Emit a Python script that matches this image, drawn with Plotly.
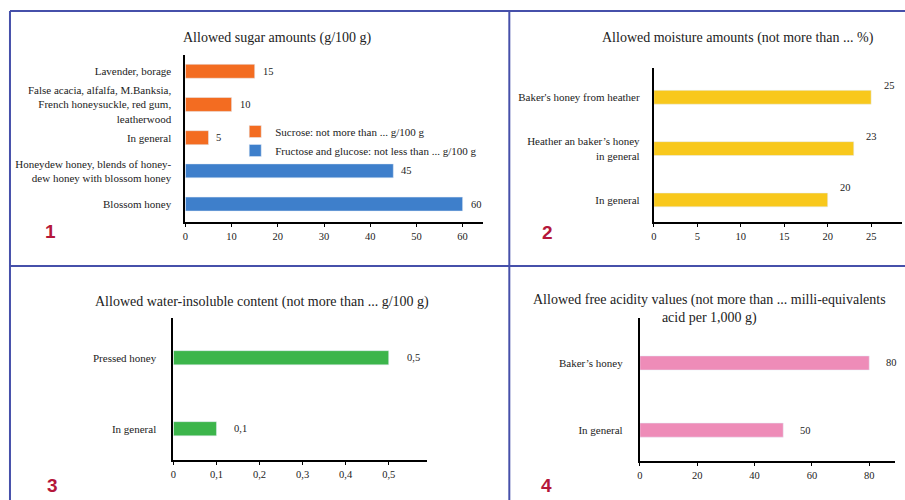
import plotly.graph_objects as go

# ---- data -------------------------------------------------------------
sugar_sucrose_cats = ["In general",
                      "False acacia, alfalfa, M.Banksia,<br>French honeysuckle, red gum,<br>leatherwood",
                      "Lavender, borage"]
sugar_sucrose_vals = [5, 10, 15]
sugar_fg_cats = ["Blossom honey",
                 "Honeydew honey, blends of honey-<br>dew honey with blossom honey"]
sugar_fg_vals = [60, 45]
sugar_order = sugar_fg_cats + sugar_sucrose_cats   # bottom to top

moisture_cats = ["In general", "Heather an baker\u2019s honey<br>in general", "Baker's honey from heather"]
moisture_vals = [20, 23, 25]

insoluble_cats = ["In general", "Pressed honey"]
insoluble_vals = [0.1, 0.5]

acidity_cats = ["In general", "Baker\u2019s honey"]
acidity_vals = [50, 80]

x_ticks_sugar = [0, 10, 20, 30, 40, 50, 60]
x_ticks_moisture = [0, 5, 10, 15, 20, 25]
x_ticks_insoluble = [0, 0.1, 0.2, 0.3, 0.4, 0.5]
x_ticks_acidity = [0, 20, 40, 60, 80]

# ---- style ------------------------------------------------------------
W, H = 905, 500
SERIF = "Liberation Serif"
TXT = "#222222"
ORANGE, BLUE, YELLOW, GREEN, PINK = "#F36C21", "#3E7FCB", "#F8C81C", "#3CB54B", "#EE8CB8"
FRAME = "#4650AA"
RED = "#B5173A"


def px_x(p):
    return p / W


def px_y(p):
    return 1 - p / H


fig = go.Figure()

# panel 1: sugar
fig.add_trace(go.Bar(x=sugar_sucrose_vals, y=sugar_sucrose_cats, orientation="h",
                     marker_color=ORANGE, width=0.42, xaxis="x", yaxis="y",
                     name="Sucrose: not more than ... g/100 g"))
fig.add_trace(go.Bar(x=sugar_fg_vals, y=sugar_fg_cats, orientation="h",
                     marker_color=BLUE, width=0.42, xaxis="x", yaxis="y",
                     name="Fructose and glucose: not less than ... g/100 g"))
# panel 2: moisture
fig.add_trace(go.Bar(x=moisture_vals, y=moisture_cats, orientation="h", marker_color=YELLOW,
                     width=0.27, xaxis="x2", yaxis="y2", showlegend=False))
# panel 3: water-insoluble
fig.add_trace(go.Bar(x=insoluble_vals, y=insoluble_cats, orientation="h", marker_color=GREEN,
                     width=0.2, xaxis="x3", yaxis="y3", showlegend=False))
# panel 4: free acidity
fig.add_trace(go.Bar(x=acidity_vals, y=acidity_cats, orientation="h", marker_color=PINK,
                     width=0.21, xaxis="x4", yaxis="y4", showlegend=False))

cat_font = dict(family=SERIF, size=11, color=TXT)
num_font = dict(family=SERIF, size=10.5, color=TXT)


def xaxis(domain, rng, ticks, anchor):
    return dict(domain=domain, range=rng, tickvals=ticks, anchor=anchor,
                showline=True, linecolor="black", linewidth=2, ticks="outside",
                ticklen=3, tickcolor="black", showgrid=False, zeroline=False,
                tickfont=num_font, fixedrange=True)


def yaxis(domain, rng, cats, anchor, standoff):
    return dict(domain=domain, range=rng, type="category", categoryorder="array",
                categoryarray=cats, anchor=anchor, showline=True, linecolor="black",
                linewidth=2, ticks="", showgrid=False, zeroline=False,
                tickfont=cat_font, ticklabelstandoff=standoff, fixedrange=True)


layout = dict(
    width=W, height=H, margin=dict(l=0, r=0, t=0, b=0),
    paper_bgcolor="white", plot_bgcolor="rgba(0,0,0,0)",
    barmode="overlay", separators=",.",
    font=dict(family=SERIF, color=TXT),
    xaxis=xaxis([px_x(183), px_x(482)], [0, 64.5], x_ticks_sugar, "y"),
    yaxis=yaxis([px_y(222), px_y(55)], [-0.54, 4.49], sugar_order, "x", 10),
    xaxis2=xaxis([px_x(653), px_x(902)], [0, 28.55], x_ticks_moisture, "y2"),
    yaxis2=yaxis([px_y(222), px_y(68)], [-0.43, 2.57], moisture_cats, "x2", 10),
    xaxis3=xaxis([px_x(171), px_x(425)], [0, 0.588], x_ticks_insoluble, "y3"),
    yaxis3=yaxis([px_y(460), px_y(318)], [-0.44, 1.56], insoluble_cats, "x3", 13),
    xaxis4=xaxis([px_x(639), px_x(895)], [0, 89], x_ticks_acidity, "y4"),
    yaxis4=yaxis([px_y(461), px_y(318)], [-0.46, 1.67], acidity_cats, "x4", 13),
    legend=dict(x=px_x(233), y=px_y(117), xanchor="left", yanchor="top",
                bgcolor="rgba(0,0,0,0)", font=dict(family=SERIF, size=11, color=TXT),
                itemwidth=30, tracegroupgap=0),
    showlegend=True,
)
fig.update_layout(**layout)

ann = []


def title(text, xc, yc):
    ann.append(dict(text=text, x=px_x(xc), y=px_y(yc), xref="paper", yref="paper",
                    showarrow=False, xanchor="center", yanchor="middle",
                    font=dict(family=SERIF, size=14, color=TXT)))


title("Allowed sugar amounts (g/100 g)", 275, 38)
title("Allowed moisture amounts (not more than ... %)", 737, 38)
title("Allowed water-insoluble content (not more than ... g/100 g)", 260, 302)
title("Allowed free acidity values (not more than ... milli-equivalents<br>acid per 1,000 g)", 709, 309)

# panel numbers
for num, xc, yc in [("1", 48, 232), ("2", 546, 233), ("3", 50, 485), ("4", 545, 485)]:
    ann.append(dict(text="<b>%s</b>" % num, x=px_x(xc), y=px_y(yc), xref="paper", yref="paper",
                    showarrow=False, xanchor="center", yanchor="middle",
                    font=dict(family="Liberation Sans", size=19, color=RED)))


def fmt(v):
    return ("%g" % v).replace(".", ",")


def value_labels(vals, cats, xr, yr, xshift, yshift=0, xanchor="left"):
    for v, c in zip(vals, cats):
        ann.append(dict(text=fmt(v), x=v, y=c, xref=xr, yref=yr, showarrow=False,
                        xanchor=xanchor, yanchor="middle", xshift=xshift, yshift=yshift,
                        font=num_font))


value_labels(sugar_sucrose_vals, sugar_sucrose_cats, "x", "y", 6)
value_labels(sugar_fg_vals, sugar_fg_cats, "x", "y", 6)
value_labels(moisture_vals, moisture_cats, "x2", "y2", 18, 12, "center")
value_labels(insoluble_vals, insoluble_cats, "x3", "y3", 16)
value_labels(acidity_vals, acidity_cats, "x4", "y4", 15)

fig.update_layout(annotations=ann)

# frame lines separating the four panels
frame = [
    (7, 11, W, 11), (7, 11, 7, H), (508, 11, 508, H), (7, 266, W, 266),
]
fig.update_layout(shapes=[dict(type="line", xref="paper", yref="paper",
                               x0=px_x(a), y0=px_y(b), x1=px_x(c), y1=px_y(d),
                               line=dict(color=FRAME, width=2)) for a, b, c, d in frame])

fig.write_html("out.html")
